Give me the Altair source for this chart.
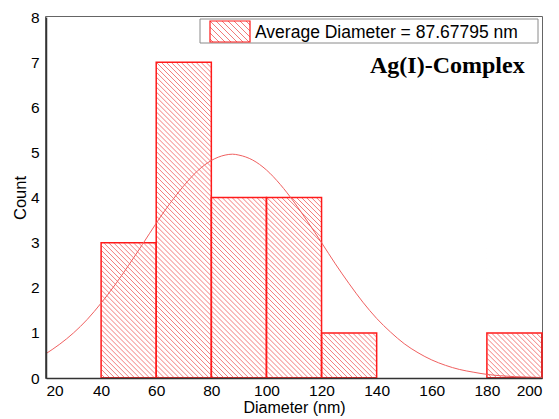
import altair as alt
import pandas as pd

# ---- data ----
bin_start = [20, 40, 60, 80, 100, 120, 140, 160, 180]
bin_count = [0, 3, 7, 4, 4, 1, 0, 0, 1]
BIN_W = 20

curve_x = [20, 25, 30, 35, 40, 45, 50, 55, 60, 65, 70, 75, 80, 85, 87.68, 90, 95,
           100, 105, 110, 115, 120, 125, 130, 135, 140, 145, 150, 155, 160, 165,
           170, 175, 180, 185, 190, 195, 200]
curve_y = [0.54, 0.75, 1.00, 1.30, 1.66, 2.06, 2.50, 2.96, 3.43, 3.87, 4.26, 4.59,
           4.82, 4.94, 4.96, 4.94, 4.83, 4.61, 4.29, 3.90, 3.46, 3.00, 2.53, 2.09,
           1.68, 1.32, 1.02, 0.76, 0.56, 0.40, 0.28, 0.19, 0.13, 0.08, 0.05, 0.03,
           0.02, 0.01]

x_ticks = [20, 40, 60, 80, 100, 120, 140, 160, 180, 200]
y_ticks = [0, 1, 2, 3, 4, 5, 6, 7, 8]
legend_label = "Average Diameter = 87.67795 nm"
panel_label = "Ag(I)-Complex"
x_title = "Diameter (nm)"
y_title = "Count"

W, H = 496, 361
SANS = "Liberation Sans"
RED = "#ff1a1a"
HATCH = "#f05a5a"
PXX = W / 180.0   # px per nm
PXY = H / 8.0     # px per count

bins = pd.DataFrame({"start": bin_start, "count": bin_count})
curve = pd.DataFrame({"x": curve_x, "y": curve_y})
one = pd.DataFrame({"a": [0]})

xscale = alt.Scale(domain=[20, 200], nice=False, zero=False)
yscale = alt.Scale(domain=[0, 8], nice=False)

xaxis = alt.Axis(values=x_ticks, title=x_title, ticks=False, grid=False,
                 labelFontSize=15.5, labelPadding=5, labelColor="black",
                 labelFont=SANS, titleFont=SANS, titleFontSize=16,
                 titleFontWeight="normal", titleColor="black",
                 titleY=34, titleBaseline="alphabetic",
                 domainColor="#333333", domainWidth=1.5, zindex=1)
yaxis = alt.Axis(values=y_ticks, title=y_title, ticks=False, grid=False,
                 labelFontSize=15.5, labelPadding=7, labelColor="black",
                 labelFont=SANS, titleFont=SANS, titleFontSize=16.5,
                 titleFontWeight="normal", titleColor="black", titlePadding=2,
                 domainColor="#333333", domainWidth=1.5, zindex=1)


def X(f):
    return alt.X(f, scale=xscale, axis=xaxis)


def Y(f):
    return alt.Y(f, scale=yscale, axis=yaxis)


# hatch lines at 45 degrees (screen space) over the whole plot
DX = H / PXX  # nm span of a full-height 45deg line
hatch = alt.Chart(alt.sequence(-140, 202, 1.8, as_="c")).transform_calculate(
    xe=f"datum.c + {DX}", yt="8", yb="0"
).mark_rule(clip=True, stroke=HATCH, strokeWidth=0.8).encode(
    x=X("c:Q"), x2="xe:Q", y=Y("yt:Q"), y2="yb:Q",
)

# white covers above every bin (hide hatch outside bars)
covers = alt.Chart(bins).transform_calculate(
    end=f"datum.start + {BIN_W}", top="8"
).mark_rect(fill="white", stroke="white", strokeWidth=1, clip=True).encode(
    x=X("start:Q"), x2="end:Q", y=Y("count:Q"), y2="top:Q",
)

outlines = alt.Chart(bins).transform_filter("datum.count > 0").transform_calculate(
    end=f"datum.start + {BIN_W}", base="0"
).mark_rect(fillOpacity=0, stroke=RED, strokeWidth=1.5).encode(
    x=X("start:Q"), x2="end:Q", y=Y("count:Q"), y2="base:Q",
)

line = alt.Chart(curve).mark_line(color="#f06060", strokeWidth=1,
                                  interpolate="monotone", clip=True).encode(
    x=X("x:Q"), y=Y("y:Q"),
)

# legend box (pixel placement inside the plot)
L0, R0, T0, B0 = 154, 492, 2, 26
L1, R1, T1, B1 = 164, 204, 4, 25

leg_bg = alt.Chart(one).mark_rect(fill="white").encode(
    x=alt.value(L0), x2=alt.value(R0), y=alt.value(T0), y2=alt.value(B0))

# legend symbol hatch: 45deg segments clipped to the symbol box (pixel maths -> data units)
leg_hatch = alt.Chart(alt.sequence(L1 - B1 + 3, R1 - T1, 6, as_="k")).transform_calculate(
    pys=f"max({T1}, {L1} - datum.k)", pye=f"min({B1}, {R1} - datum.k)"
).transform_calculate(
    xs=f"20 + (datum.pys + datum.k) / {PXX}", xe=f"20 + (datum.pye + datum.k) / {PXX}",
    ys=f"8 - datum.pys / {PXY}", ye=f"8 - datum.pye / {PXY}",
).mark_rule(color="#f06a6a", strokeWidth=0.9).encode(
    x=X("xs:Q"), x2="xe:Q", y=Y("ys:Q"), y2="ye:Q",
)

leg_box = alt.Chart(one).mark_rect(fillOpacity=0, stroke="#8a8a8a", strokeWidth=1).encode(
    x=alt.value(L0), x2=alt.value(R0), y=alt.value(T0), y2=alt.value(B0))
leg_sym = alt.Chart(one).mark_rect(fillOpacity=0, stroke=RED, strokeWidth=1.2).encode(
    x=alt.value(L1), x2=alt.value(R1), y=alt.value(T1), y2=alt.value(B1))
leg_text = alt.Chart(one).mark_text(text=legend_label, font=SANS, fontSize=17.5,
                                    align="left", baseline="alphabetic",
                                    color="black").encode(
    x=alt.value(209), y=alt.value(20.5))
panel_text = alt.Chart(one).mark_text(text=panel_label, font="Liberation Serif",
                                      fontSize=24, fontWeight="bold", align="left",
                                      baseline="alphabetic", color="black").encode(
    x=alt.value(324), y=alt.value(55.5))

chart = alt.layer(hatch, covers, outlines, line, leg_bg, leg_hatch, leg_box, leg_sym,
                  leg_text, panel_text).properties(
    width=W, height=H,
    padding={"left": 46, "top": 17, "right": 17, "bottom": 41},
    autosize=alt.AutoSizeParams(type="none"),
    background="white",
).configure_view(stroke="#333333", strokeWidth=1.5)

chart.save("out.html", embed_options={"renderer": "svg", "actions": False})
